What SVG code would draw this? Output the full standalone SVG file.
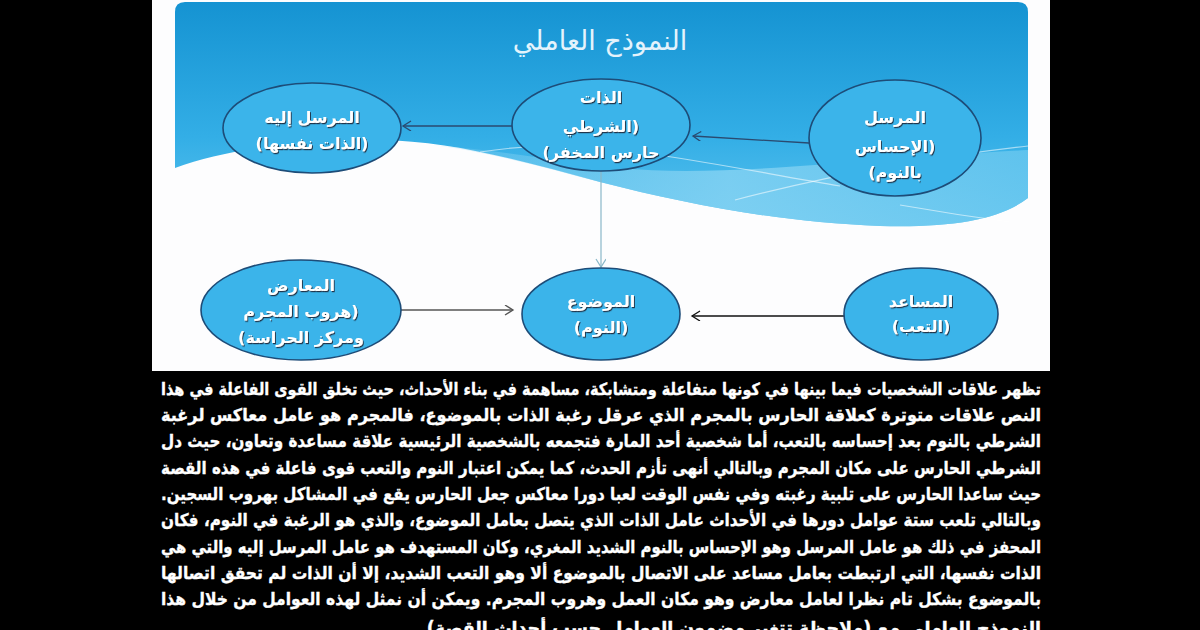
<svg xmlns="http://www.w3.org/2000/svg" width="1200" height="630" viewBox="0 0 1200 630">
<style>
.node ellipse{fill:#3bb4ea;stroke:#1d4c78;stroke-width:1.6}
.lbl{font-family:"DejaVu Sans",sans-serif;font-weight:bold;font-size:16px;fill:#ffffff;text-anchor:middle;direction:rtl;filter:url(#sh)}
.title{font-family:"DejaVu Sans",sans-serif;font-size:27px;fill:#e4f3fc;text-anchor:middle;direction:rtl}
.body{font-family:"DejaVu Sans",sans-serif;font-weight:bold;font-size:17.5px;fill:#ffffff;stroke:#ffffff;stroke-width:0.35;direction:rtl;text-anchor:middle}
.streak{fill:none;stroke:#ffffff;stroke-width:1.2;opacity:0.55}
</style>
<defs>
<linearGradient id="panel" x1="0" y1="0" x2="0" y2="1">
<stop offset="0" stop-color="#1593d2"/>
<stop offset="0.6" stop-color="#33aee6"/>
<stop offset="1" stop-color="#5cc3ee"/>
</linearGradient>
<linearGradient id="band" x1="0" y1="0" x2="1" y2="0">
<stop offset="0" stop-color="#8fd6f4" stop-opacity="0.2"/>
<stop offset="0.5" stop-color="#86d3f3" stop-opacity="0.8"/>
<stop offset="1" stop-color="#6fcaf0" stop-opacity="0.7"/>
</linearGradient>
<filter id="sh" x="-10%" y="-30%" width="130%" height="170%">
<feDropShadow dx="1" dy="1.2" stdDeviation="0.6" flood-color="#1a2a3a" flood-opacity="0.9"/>
</filter>
<marker id="aNavy" markerWidth="12" markerHeight="12" refX="9" refY="5" orient="auto" markerUnits="userSpaceOnUse">
<path d="M1,0 L9,5 L1,10" fill="none" stroke="#2a4a70" stroke-width="1.3"/>
</marker>
<marker id="aTeal" markerWidth="12" markerHeight="12" refX="9" refY="5" orient="auto" markerUnits="userSpaceOnUse">
<path d="M1,0 L9,5 L1,10" fill="none" stroke="#8ab8c8" stroke-width="1.2"/>
</marker>
<marker id="aGray" markerWidth="12" markerHeight="12" refX="9" refY="5" orient="auto" markerUnits="userSpaceOnUse">
<path d="M1,0 L9,5 L1,10" fill="none" stroke="#555555" stroke-width="1.3"/>
</marker>
<marker id="aBlack" markerWidth="12" markerHeight="12" refX="9" refY="5" orient="auto" markerUnits="userSpaceOnUse">
<path d="M1,0 L9,5 L1,10" fill="none" stroke="#111111" stroke-width="1.3"/>
</marker>
</defs>

<rect x="0" y="0" width="1200" height="630" fill="#000000"/>
<rect x="152" y="0" width="898" height="371" fill="#fdfdfe"/>

<g id="background">
<path d="M175,12 Q175,2 185,2 L1018,2 Q1028,2 1028,12 L1028,198 C1000,220 950,228 880,226 C780,222 690,205 600,182 C520,160 450,141 380,140 C300,140 230,148 175,168 Z" fill="url(#panel)"/>
<path d="M430,145 C500,150 560,162 620,168 C720,178 850,160 1028,150 L1028,198 C1000,220 950,228 880,226 C780,222 690,205 600,182 C540,166 480,150 430,145 Z" fill="url(#band)"/>
<path class="streak" d="M480,152 C520,146 560,144 600,146"/>
<path class="streak" d="M665,156 C720,164 790,178 840,186"/>
<path class="streak" d="M735,200 C820,178 920,158 1028,146"/>
<path class="streak" d="M900,205 C940,212 980,218 1010,222"/>
</g>

<text class="title" x="600" y="50">النموذج العاملي</text>

<g id="connectors">
<line x1="809" y1="143" x2="693" y2="136" stroke="#2a4a70" stroke-width="1.3" marker-end="url(#aNavy)"/>
<line x1="512" y1="126" x2="403" y2="126" stroke="#2a4a70" stroke-width="1.3" marker-end="url(#aNavy)"/>
<line x1="601" y1="171" x2="601" y2="267" stroke="#8ab8c8" stroke-width="1.2" marker-end="url(#aTeal)"/>
<line x1="401" y1="310" x2="513" y2="310" stroke="#555555" stroke-width="1.3" marker-end="url(#aGray)"/>
<line x1="844" y1="316" x2="692" y2="316" stroke="#111111" stroke-width="1.3" marker-end="url(#aBlack)"/>
</g>

<g id="node-receiver" class="node">
<ellipse cx="312" cy="128" rx="89" ry="45"/>
<text class="lbl" x="312" y="123">المرسل إليه</text>
<text class="lbl" x="312" y="149">(الذات نفسها)</text>
</g>

<g id="node-subject" class="node">
<ellipse cx="601" cy="125" rx="89" ry="46"/>
<text class="lbl" x="601" y="103">الذات</text>
<text class="lbl" x="601" y="132">(الشرطي</text>
<text class="lbl" x="601" y="158">حارس المخفر)</text>
</g>

<g id="node-sender" class="node">
<ellipse cx="895" cy="138" rx="86" ry="58"/>
<text class="lbl" x="895" y="123">المرسل</text>
<text class="lbl" x="895" y="152">(الإحساس</text>
<text class="lbl" x="895" y="178">بالنوم)</text>
</g>

<g id="node-opponent" class="node">
<ellipse cx="301" cy="310" rx="100" ry="50"/>
<text class="lbl" x="301" y="291">المعارض</text>
<text class="lbl" x="301" y="317">(هروب المجرم</text>
<text class="lbl" x="301" y="343">ومركز الحراسة)</text>
</g>

<g id="node-object" class="node">
<ellipse cx="601" cy="314" rx="79" ry="46"/>
<text class="lbl" x="601" y="307">الموضوع</text>
<text class="lbl" x="601" y="333">(النوم)</text>
</g>

<g id="node-helper" class="node">
<ellipse cx="921" cy="314" rx="77" ry="46"/>
<text class="lbl" x="921" y="307">المساعد</text>
<text class="lbl" x="921" y="332">(التعب)</text>
</g>

<g id="paragraph">
<text class="body" x="601" y="395" textLength="880" lengthAdjust="spacingAndGlyphs" style="font-size:16.8px">تظهر علاقات الشخصيات فيما بينها في كونها متفاعلة ومتشابكة، مساهمة في بناء الأحداث، حيث تخلق القوى الفاعلة في هذا</text>
<text class="body" x="601" y="421" textLength="880" lengthAdjust="spacingAndGlyphs">النص علاقات متوترة كعلاقة الحارس بالمجرم الذي عرقل رغبة الذات بالموضوع، فالمجرم هو عامل معاكس لرغبة</text>
<text class="body" x="601" y="447" textLength="880" lengthAdjust="spacingAndGlyphs">الشرطي بالنوم بعد إحساسه بالتعب، أما شخصية أحد المارة فتجمعه بالشخصية الرئيسية علاقة مساعدة وتعاون، حيث دل</text>
<text class="body" x="601" y="474" textLength="880" lengthAdjust="spacingAndGlyphs">الشرطي  الحارس على مكان المجرم وبالتالي أنهى تأزم الحدث، كما يمكن اعتبار النوم والتعب قوى فاعلة في هذه القصة</text>
<text class="body" x="601" y="500" textLength="880" lengthAdjust="spacingAndGlyphs">حيث ساعدا الحارس على تلبية رغبته وفي نفس الوقت لعبا دورا معاكس جعل الحارس يقع في المشاكل بهروب السجين.</text>
<text class="body" x="601" y="526" textLength="880" lengthAdjust="spacingAndGlyphs">وبالتالي تلعب ستة عوامل دورها في الأحداث عامل الذات الذي يتصل بعامل الموضوع، والذي هو الرغبة في النوم، فكان</text>
<text class="body" x="601" y="553" textLength="880" lengthAdjust="spacingAndGlyphs">المحفز في ذلك هو عامل المرسل وهو الإحساس بالنوم الشديد المغري، وكان المستهدف هو عامل المرسل إليه والتي هي</text>
<text class="body" x="601" y="579" textLength="880" lengthAdjust="spacingAndGlyphs">الذات نفسها، التي ارتبطت بعامل مساعد على الاتصال بالموضوع ألا وهو التعب الشديد، إلا أن الذات لم تحقق اتصالها</text>
<text class="body" x="601" y="605" textLength="880" lengthAdjust="spacingAndGlyphs">بالموضوع بشكل تام  نظرا لعامل معارض وهو مكان العمل وهروب المجرم. ويمكن أن نمثل لهذه العوامل من خلال هذا</text>
<text class="body" x="1041" y="634" style="text-anchor:start">النموذج العاملي مع (ملاحظة تتغير مضمون العوامل حسب أحداث القصة)</text>
</g>
</svg>
